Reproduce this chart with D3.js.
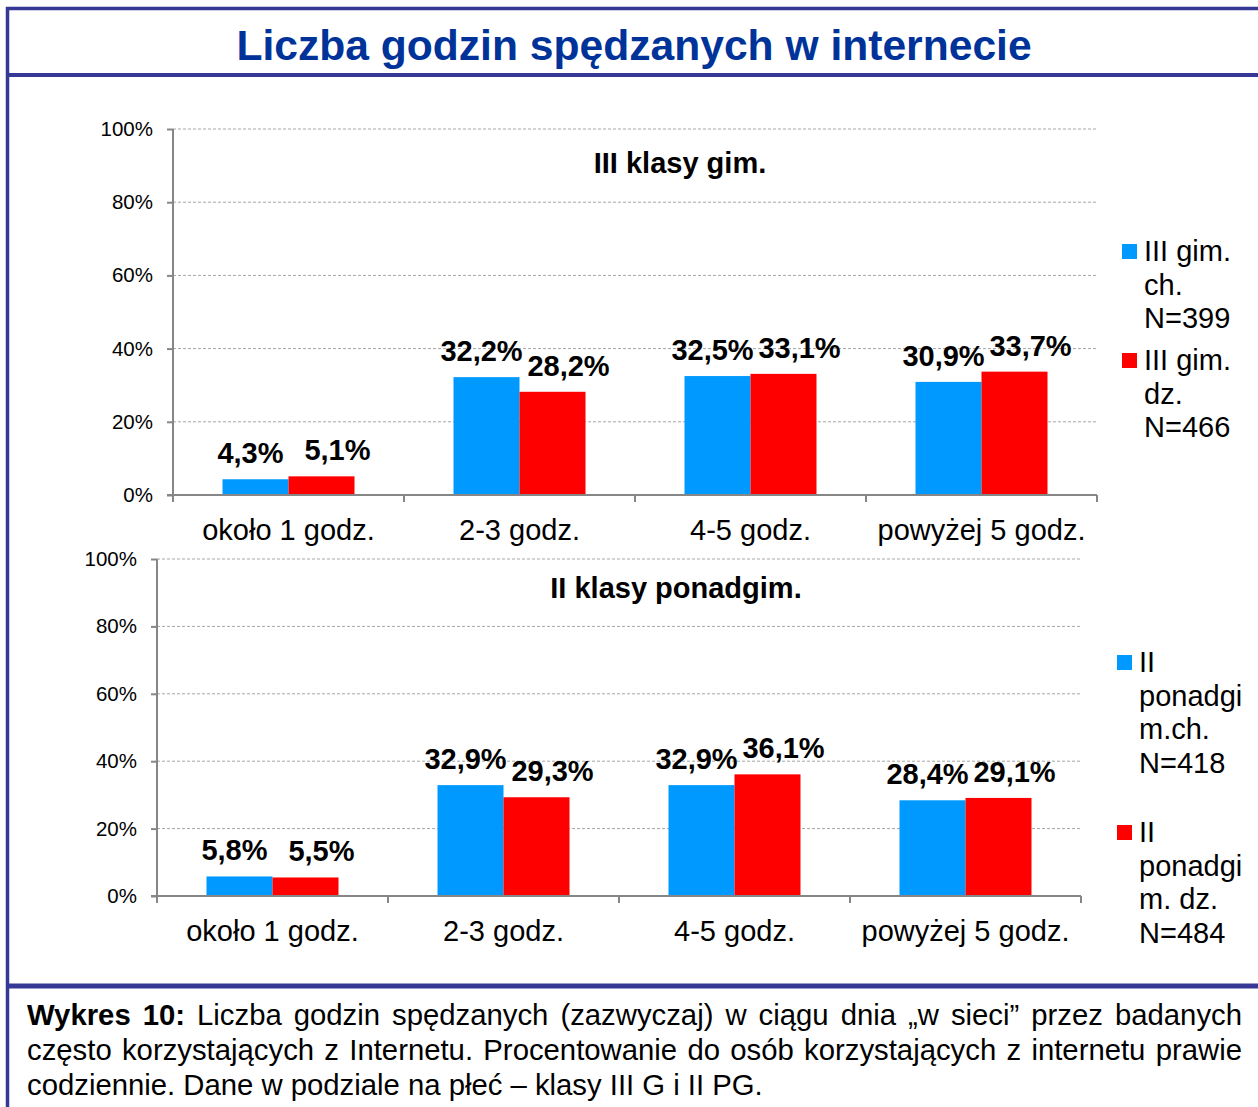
<!DOCTYPE html>
<html>
<head>
<meta charset="utf-8">
<script src="https://cdn.jsdelivr.net/npm/d3@7"></script>
<style>
body{margin:0;background:#fff;}
svg{display:block;font-family:"Liberation Sans",Arial,sans-serif;}
</style>
</head>
<body>
<div id="chart"></div>
<script>
var categories = ["około 1 godz.", "2-3 godz.", "4-5 godz.", "powyżej 5 godz."]
var yTicks = [0, 20, 40, 60, 80, 100]
var gimBoys = [4.3, 32.2, 32.5, 30.9]
var gimGirls = [5.1, 28.2, 33.1, 33.7]
var pgBoys = [5.8, 32.9, 32.9, 28.4]
var pgGirls = [5.5, 29.3, 36.1, 29.1]
var gimLegend = [["III gim.", "ch.", "N=399"], ["III gim.", "dz.", "N=466"]]
var pgLegend = [["II", "ponadgi", "m.ch.", "N=418"], ["II", "ponadgi", "m. dz.", "N=484"]]
var title = "Liczba godzin spędzanych w internecie"
var captionLines = [
    "Wykres 10: Liczba godzin spędzanych (zazwyczaj) w ciągu dnia „w sieci” przez badanych",
    "często korzystających z Internetu. Procentowanie do osób korzystających z internetu prawie",
    "codziennie. Dane w podziale na płeć – klasy III G i II PG."
]
var colors = ["#0099ff", "#ff0000"]

var W = 1258, H = 1107
var frame = "#363896"
var svg = d3.select("#chart").append("svg").attr("width", W).attr("height", H)

// frame
svg.append("rect").attr("x", 7.5).attr("y", 8.5).attr("width", W).attr("height", H)
    .style("fill", "none").style("stroke", frame).style("stroke-width", 3.5)
svg.append("line").attr("x1", 7).attr("x2", W).attr("y1", 75).attr("y2", 75)
    .style("stroke", frame).style("stroke-width", 4)
svg.append("line").attr("x1", 7).attr("x2", W).attr("y1", 986).attr("y2", 986)
    .style("stroke", frame).style("stroke-width", 5)

svg.append("text").attr("x", 634).attr("y", 60).attr("text-anchor", "middle")
    .style("font-weight", "bold").style("font-size", "42.6px").style("fill", "#003399")
    .text(title)

function fmt(v){ return d3.format(".1f")(v).replace(".", ",") + "%" }

function drawPanel(p){
    var g = svg.append("g")
    var x = d3.scaleBand().domain(categories).range([p.left, p.right])
        .paddingInner(0.4286).paddingOuter(0.2143)
    var x1 = d3.scaleBand().domain([0, 1]).range([0, x.bandwidth()])
    var y = d3.scaleLinear().domain([0, 100]).range([p.bottom, p.top])

    // grid
    g.selectAll(".grid").data(yTicks.slice(1)).enter().append("line")
        .attr("x1", p.left).attr("x2", p.right)
        .attr("y1", function(d){ return y(d) }).attr("y2", function(d){ return y(d) })
        .style("stroke", "#a6a6a6").style("stroke-width", 1).style("stroke-dasharray", "3,2")

    // bars
    var series = [p.a, p.b]
    series.forEach(function(vals, s){
        g.selectAll(".bar" + s).data(vals).enter().append("rect")
            .attr("x", function(d, i){ return x(categories[i]) + x1(s) })
            .attr("width", x1.bandwidth())
            .attr("y", function(d){ return y(d) })
            .attr("height", function(d){ return p.bottom - y(d) })
            .style("fill", colors[s])
        g.selectAll(".lab" + s).data(vals).enter().append("text")
            .attr("x", function(d, i){ return x(categories[i]) + x1(s) + x1.bandwidth() / 2 + (s == 0 ? -5 : 16) })
            .attr("y", function(d){ return y(d) - 16 })
            .attr("text-anchor", "middle")
            .style("font-weight", "bold").style("font-size", "29px").style("fill", "#000")
            .text(fmt)
    })

    // y axis
    var yAxis = d3.axisLeft(y).tickValues(yTicks).tickSize(6).tickPadding(14)
        .tickFormat(function(d){ return d + "%" })
    var ya = g.append("g").attr("transform", "translate(" + p.left + ",0)").call(yAxis)
    ya.select(".domain").remove()
    ya.selectAll("line").style("stroke", "#868686").style("stroke-width", 2)
    ya.selectAll("text").style("font-size", "20.5px").style("font-family", "Liberation Sans, Arial").style("fill", "#000")
    g.append("line").attr("x1", p.left).attr("x2", p.left).attr("y1", p.top).attr("y2", p.bottom)
        .style("stroke", "#868686").style("stroke-width", 2)

    // x axis
    g.append("line").attr("x1", p.left - 6).attr("x2", p.right).attr("y1", p.bottom).attr("y2", p.bottom)
        .style("stroke", "#868686").style("stroke-width", 2)
    var bounds = d3.range(categories.length + 1).map(function(i){ return p.left + i * x.step() })
    g.selectAll(".ct").data(bounds).enter().append("line")
        .attr("x1", function(d){ return d }).attr("x2", function(d){ return d })
        .attr("y1", p.bottom).attr("y2", p.bottom + 7)
        .style("stroke", "#868686").style("stroke-width", 2)
    g.selectAll(".cl").data(categories).enter().append("text")
        .attr("x", function(d){ return x(d) + x.bandwidth() / 2 })
        .attr("y", p.bottom + 45)
        .attr("text-anchor", "middle").style("font-size", "29px").style("fill", "#000")
        .text(function(d){ return d })

    g.append("text").attr("x", p.subX).attr("y", p.subY).attr("text-anchor", "middle")
        .style("font-weight", "bold").style("font-size", "29px").text(p.sub)

    // legend
    p.legend.forEach(function(lines, s){
        var ly = p.legY[s]
        g.append("rect").attr("x", p.legX).attr("y", ly - 7).attr("width", 15).attr("height", 15)
            .style("fill", colors[s])
        lines.forEach(function(t, k){
            g.append("text").attr("x", p.legX + 22).attr("y", ly + 10 + k * 33.6)
                .style("font-size", "29px").style("fill", "#000").text(t)
        })
    })
}

drawPanel({left: 173, right: 1097, top: 129, bottom: 495, a: gimBoys, b: gimGirls,
    sub: "III klasy gim.", subX: 680, subY: 173, legend: gimLegend, legX: 1122, legY: [251, 360]})
drawPanel({left: 157, right: 1081, top: 559, bottom: 896, a: pgBoys, b: pgGirls,
    sub: "II klasy ponadgim.", subX: 676, subY: 598, legend: pgLegend, legX: 1117, legY: [662, 832]})

// caption, justified
var capL = 27, capR = 1242
captionLines.forEach(function(line, li){
    var words = line.split(" ")
    var t = svg.append("text").attr("y", 1025 + li * 35).style("font-size", "29.3px").style("fill", "#000")
    var spans = words.map(function(w, wi){
        var bold = li == 0 && wi < 2
        return t.append("tspan").style("font-weight", bold ? "bold" : "normal").text(w)
    })
    var widths = spans.map(function(s){ return s.node().getComputedTextLength() })
    var total = d3.sum(widths)
    var gap = li < captionLines.length - 1 ? (capR - capL - total) / (words.length - 1) : 8.1
    var cx = capL
    spans.forEach(function(s, i){
        s.attr("x", cx)
        cx += widths[i] + gap
    })
})
</script>
</body>
</html>
